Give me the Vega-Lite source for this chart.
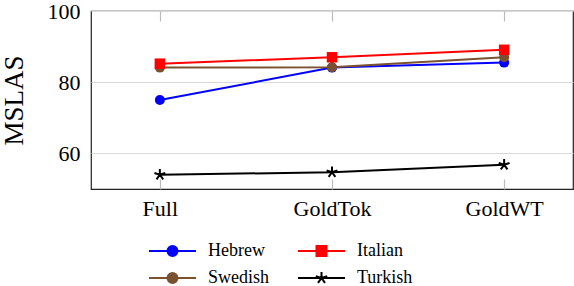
{
  "$schema": "https://vega.github.io/schema/vega-lite/v6.json",
  "autosize": {"type": "none"},
  "padding": {"left": 91, "top": 11, "right": 1, "bottom": 97},
  "width": 482,
  "height": 178,
  "background": "white",
  "config": {
    "font": "Liberation Serif, Times New Roman, serif",
    "view": {"stroke": "#222", "strokeWidth": 1.2},
    "axis": {"labelFont": "Liberation Serif, Times New Roman, serif", "titleFont": "Liberation Serif, Times New Roman, serif", "labelColor": "black", "titleColor": "black", "domain": false},
    "legend": {"labelFont": "Liberation Serif, Times New Roman, serif"}
  },
  "data": {"values": [
    {"lang": "Hebrew", "setting": "Full", "mslas": 75.0},
    {"lang": "Hebrew", "setting": "GoldTok", "mslas": 84.1},
    {"lang": "Hebrew", "setting": "GoldWT", "mslas": 85.5},
    {"lang": "Italian", "setting": "Full", "mslas": 85.2},
    {"lang": "Italian", "setting": "GoldTok", "mslas": 87.0},
    {"lang": "Italian", "setting": "GoldWT", "mslas": 89.1},
    {"lang": "Swedish", "setting": "Full", "mslas": 84.1},
    {"lang": "Swedish", "setting": "GoldTok", "mslas": 84.2},
    {"lang": "Swedish", "setting": "GoldWT", "mslas": 87.0},
    {"lang": "Turkish", "setting": "Full", "mslas": 54.0},
    {"lang": "Turkish", "setting": "GoldTok", "mslas": 54.7},
    {"lang": "Turkish", "setting": "GoldWT", "mslas": 56.8}
  ]},
  "encoding": {
    "x": {"field": "setting", "type": "ordinal", "sort": ["Full", "GoldTok", "GoldWT"], "scale": {"type": "point", "padding": 0.4}},
    "y": {"field": "mslas", "type": "quantitative", "scale": {"domain": [50, 100], "nice": false, "zero": false},
      "axis": {"values": [60, 80, 100], "title": "MSLAS", "titleFontSize": 27, "titleFontWeight": "normal", "titlePadding": 19, "labelFontSize": 22, "labelPadding": 11, "ticks": false, "grid": true, "gridColor": "#d9d9d9", "gridWidth": 1.2}},
    "color": {"field": "lang", "type": "nominal",
      "scale": {"domain": ["Hebrew", "Italian", "Swedish", "Turkish"], "range": ["#0000ff", "#ff0000", "#7b5230", "#000000"]},
      "legend": {
        "title": null, "orient": "none", "legendX": 57, "legendY": 229, "columns": 2, "direction": "horizontal",
        "columnPadding": 24, "rowPadding": 7, "padding": 0,
        "labelFontSize": 18, "labelColor": "black", "labelOffset": 38,
        "symbolSize": 400, "symbolStrokeWidth": 2,
        "encode": {"symbols": {"update": {
          "shape": {"signal": "datum.value === 'Italian' ? 'M-1,0H3.7M0.85,-0.5H1.85V0.5H0.85Z' : datum.value === 'Turkish' ? 'M-1,0H3.7M1.35,0L1.35,-0.6M1.35,0L1.92,-0.19M1.35,0L1.70,0.49M1.35,0L1.0,0.49M1.35,0L0.78,-0.19' : 'M-1,0H3.7M0.85,0A0.5,0.5 0 1,1 1.85,0A0.5,0.5 0 1,1 0.85,0Z'"},
          "size": {"value": 400},
          "fill": {"scale": "color", "field": "value"},
          "stroke": {"scale": "color", "field": "value"},
          "strokeWidth": {"value": 2},
          "opacity": {"value": 1},
          "fillOpacity": {"value": 1},
          "strokeOpacity": {"value": 1}
        }}}
      }}
  },
  "layer": [
    {
      "mark": {"type": "line", "strokeWidth": 2},
      "encoding": {
        "x": {"field": "setting", "type": "ordinal", "sort": ["Full", "GoldTok", "GoldWT"], "axis": {"orient": "top", "labels": false, "title": null, "tickSize": -10, "tickColor": "#bbbbbb", "tickWidth": 1.2, "grid": false}}
      }
    },
    {
      "transform": [{"filter": {"field": "lang", "oneOf": ["Hebrew", "Swedish"]}}],
      "mark": {"type": "point", "shape": "circle", "filled": true, "size": 100, "strokeWidth": 1.5, "opacity": 1},
      "encoding": {
        "x": {"field": "setting", "type": "ordinal", "sort": ["Full", "GoldTok", "GoldWT"], "axis": {"orient": "bottom", "title": null, "labelFontSize": 22, "labelAngle": 0, "tickSize": -10, "tickColor": "#bbbbbb", "tickWidth": 1.2, "labelPadding": 19, "grid": false}}
      }
    },
    {
      "transform": [{"filter": {"field": "lang", "equal": "Italian"}}],
      "mark": {"type": "point", "shape": "square", "filled": true, "size": 110, "opacity": 1},
      "encoding": {"x": {"field": "setting", "type": "ordinal", "sort": ["Full", "GoldTok", "GoldWT"], "axis": null}}
    },
    {
      "transform": [{"filter": {"field": "lang", "equal": "Turkish"}}],
      "mark": {"type": "point", "shape": "M0,0L0,-1M0,0L0.951,-0.309M0,0L0.588,0.809M0,0L-0.588,0.809M0,0L-0.951,-0.309", "filled": false, "size": 130, "strokeWidth": 2, "opacity": 1},
      "encoding": {"x": {"field": "setting", "type": "ordinal", "sort": ["Full", "GoldTok", "GoldWT"], "axis": null}}
    }
  ],
  "resolve": {"axis": {"x": "independent"}}
}
